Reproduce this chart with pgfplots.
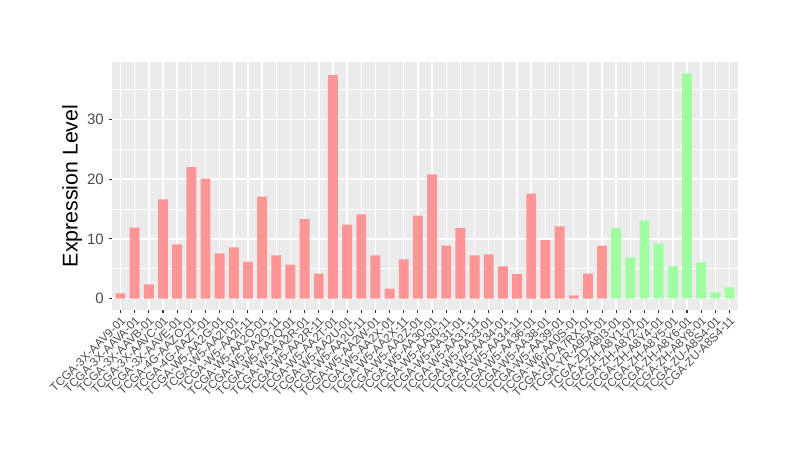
\documentclass[border=0pt]{standalone}
\usepackage{pgfplots}
\pgfplotsset{compat=1.18}
\usepackage{fontspec}
\setmainfont{Liberation Sans}
\definecolor{panel}{HTML}{EBEBEB}
\definecolor{pinkbar}{RGB}{255,150,150}
\definecolor{greenbar}{RGB}{160,255,160}
\definecolor{ticktext}{HTML}{4D4D4D}
% sample names, kept out of math mode
\newcommand{\s}[1]{\mbox{TCGA-#1}}
\begin{document}
\begin{tikzpicture}
\useasboundingbox (0,0) rectangle (600pt,348pt);
\begin{axis}[
  at={(84pt,115.5pt)}, anchor=south west,
  scale only axis, width=469.5pt, height=186pt,
  xmin=0.4, xmax=44.6, ymin=-1.885, ymax=39.6,
  axis background/.style={fill=panel},
  axis line style={draw=none},
  ybar, bar width=0.7, bar shift=0pt,
  xtick={1,...,44},
  xticklabels={\s{3X-AAV9-01},\s{3X-AAVA-01},\s{3X-AAVB-01},\s{3X-AAVC-01},\s{3X-AAVE-01},
    \s{4G-AAZO-01},\s{4G-AAZT-01},\s{W5-AA2G-01},\s{W5-AA2I-01},\s{W5-AA2I-11},
    \s{W5-AA2O-01},\s{W5-AA2O-11},\s{W5-AA2Q-01},\s{W5-AA2R-01},\s{W5-AA2R-11},
    \s{W5-AA2T-01},\s{W5-AA2U-01},\s{W5-AA2U-11},\s{W5-AA2W-01},\s{W5-AA2X-01},
    \s{W5-AA2X-11},\s{W5-AA2Z-01},\s{W5-AA30-01},\s{W5-AA30-11},\s{W5-AA31-01},
    \s{W5-AA31-11},\s{W5-AA33-01},\s{W5-AA34-01},\s{W5-AA34-11},\s{W5-AA36-01},
    \s{W5-AA38-01},\s{W5-AA39-01},\s{W6-AA0S-01},\s{WD-A7RX-01},\s{YR-A95A-01},
    \s{ZD-A8I3-01},\s{ZH-A8Y1-01},\s{ZH-A8Y2-01},\s{ZH-A8Y4-01},\s{ZH-A8Y5-01},
    \s{ZH-A8Y6-01},\s{ZH-A8Y8-01},\s{ZU-A8S4-01},\s{ZU-A8S4-11}},
  xticklabel style={rotate=45, anchor=north east, font=\fontsize{8.8}{10}\selectfont, text=ticktext, inner sep=1pt},
  ytick={0,10,20,30}, minor ytick={5,15,25,35},
  yticklabel style={font=\fontsize{11.3}{13}\selectfont, text=ticktext, /pgf/number format/assume math mode=true},
  xmajorgrids, ymajorgrids, yminorgrids,
  major grid style={white, line width=1.1pt},
  minor grid style={white, line width=0.55pt},
  tick align=outside, xtick pos=left, ytick pos=left,
  major tick length=2.6pt, minor tick length=0pt,
  tick style={color=black!80, line width=0.8pt},
  ylabel={Expression Level},
  every axis y label/.style={at={(axis description cs:0,0.5)}, xshift=-30pt, rotate=90, anchor=center, font=\fontsize{16}{19}\selectfont},
]
\addplot[draw=none, fill=pinkbar] coordinates {
(1,0.9) (2,11.9) (3,2.4) (4,16.6) (5,9.1) (6,22.0) (7,20.1) (8,7.6) (9,8.6) (10,6.2)
(11,17.1) (12,7.25) (13,5.7) (14,13.3) (15,4.2) (16,37.4) (17,12.4) (18,14.1) (19,7.25) (20,1.7)
(21,6.6) (22,13.9) (23,20.8) (24,8.9) (25,11.8) (26,7.25) (27,7.4) (28,5.4) (29,4.1) (30,17.6)
(31,9.8) (32,12.1) (33,0.56) (34,4.2) (35,8.9)
};
\addplot[draw=none, fill=greenbar] coordinates {
(36,11.9) (37,6.9) (38,13.1) (39,9.26) (40,5.4) (41,37.7) (42,6.1) (43,1.06) (44,1.9)
};
\end{axis}
\end{tikzpicture}
\end{document}
